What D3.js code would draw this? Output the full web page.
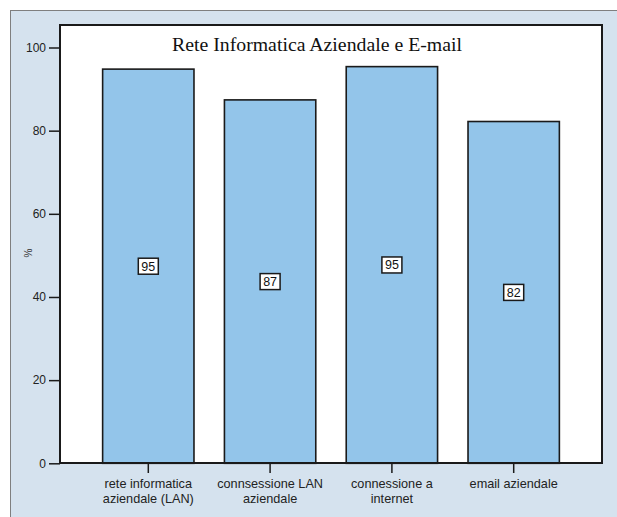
<!DOCTYPE html>
<html>
<head>
<meta charset="utf-8">
<script src="https://cdn.jsdelivr.net/npm/d3@7"></script>
<style>
  html, body { margin: 0; padding: 0; background: #ffffff; }
  svg { display: block; }
</style>
</head>
<body>
<svg id="chart" width="617" height="517"></svg>
<script>
// Survey results: share of companies (%) with each IT facility
const categories = [
  ["rete informatica", "aziendale (LAN)"],
  ["connsessione LAN", "aziendale"],
  ["connessione a", "internet"],
  ["email aziendale"]
];
const values = [94.8, 87.4, 95.4, 82.2];
const yTicks = [0, 20, 40, 60, 80, 100];
const title = "Rete Informatica Aziendale e E-mail";
const yTitle = "%";

const svg = d3.select("#chart");
const W = 617, H = 517;
const plot = { left: 60, top: 25, right: 602, bottom: 463 };

// outer panel
svg.append("rect")
  .attr("x", 10.5).attr("y", 10.5)
  .attr("width", W).attr("height", H)
  .attr("fill", "#d5e2ee")
  .attr("stroke", "#7f7f7f")
  .attr("stroke-width", 1);

// plot background
svg.append("rect")
  .attr("x", plot.left).attr("y", plot.top)
  .attr("width", plot.right - plot.left)
  .attr("height", plot.bottom - plot.top)
  .attr("fill", "#ffffff");

const x = d3.scaleBand()
  .domain(d3.range(values.length))
  .range([plot.left, plot.right])
  .paddingInner(0.25)
  .paddingOuter(0.35);

const y = d3.scaleLinear()
  .domain([0, 100])
  .range([463.3, 47.5]);

// bars
svg.append("g").selectAll("rect")
  .data(values)
  .join("rect")
  .attr("x", (d, i) => x(i))
  .attr("y", d => y(d))
  .attr("width", x.bandwidth())
  .attr("height", d => y(0) - y(d))
  .attr("fill", "#93c5ea")
  .attr("stroke", "#1a1a1a")
  .attr("stroke-width", 1.6);

// value labels in boxed tags at mid-height
const fmt = d3.format(".0f");
const lab = svg.append("g").selectAll("g")
  .data(values)
  .join("g")
  .attr("transform", (d, i) => `translate(${x(i) + x.bandwidth() / 2},${(y(d) + y(0)) / 2})`);
lab.append("rect")
  .attr("x", -10).attr("y", -8)
  .attr("width", 20).attr("height", 16)
  .attr("fill", "#ffffff")
  .attr("stroke", "#1a1a1a")
  .attr("stroke-width", 1.5);
lab.append("text")
  .attr("text-anchor", "middle")
  .attr("dy", "0.36em")
  .attr("font-family", "Liberation Sans, Arial, sans-serif")
  .attr("font-size", 12.5)
  .attr("fill", "#111")
  .text(d => fmt(d));

// frame
svg.append("rect")
  .attr("x", plot.left).attr("y", plot.top)
  .attr("width", plot.right - plot.left)
  .attr("height", plot.bottom - plot.top)
  .attr("fill", "none")
  .attr("stroke", "#1a1a1a")
  .attr("stroke-width", 2);

// y axis
const yAxis = svg.append("g")
  .attr("transform", `translate(${plot.left},0)`)
  .call(d3.axisLeft(y).tickValues(yTicks).tickSize(11).tickPadding(3));
yAxis.select(".domain").remove();
yAxis.selectAll("line").attr("stroke", "#1a1a1a").attr("stroke-width", 1.5);
yAxis.selectAll("text")
  .attr("font-family", "Liberation Sans, Arial, sans-serif")
  .attr("font-size", 12)
  .attr("fill", "#222");

// x axis
const xAxis = svg.append("g")
  .attr("transform", `translate(0,${plot.bottom})`)
  .call(d3.axisBottom(x).tickSize(10).tickFormat(""));
xAxis.select(".domain").remove();
xAxis.selectAll("line").attr("stroke", "#1a1a1a").attr("stroke-width", 1.5);
xAxis.selectAll(".tick").each(function (d, i) {
  const t = d3.select(this).append("text")
    .attr("text-anchor", "middle")
    .attr("font-family", "Liberation Sans, Arial, sans-serif")
    .attr("font-size", 12.7)
    .attr("fill", "#222");
  categories[i].forEach((line, k) => {
    t.append("tspan").attr("x", 0).attr("y", 25 + k * 14.5).text(line);
  });
});

// y title
svg.append("text")
  .attr("transform", "translate(32,253) rotate(-90)")
  .attr("text-anchor", "middle")
  .attr("font-family", "Liberation Sans, Arial, sans-serif")
  .attr("font-size", 10)
  .attr("fill", "#333")
  .text(yTitle);

// chart title
svg.append("text")
  .attr("x", 317).attr("y", 50.5)
  .attr("text-anchor", "middle")
  .attr("font-family", "Liberation Serif, Times New Roman, serif")
  .attr("font-size", 19.8)
  .attr("fill", "#111")
  .text(title);
</script>
</body>
</html>
